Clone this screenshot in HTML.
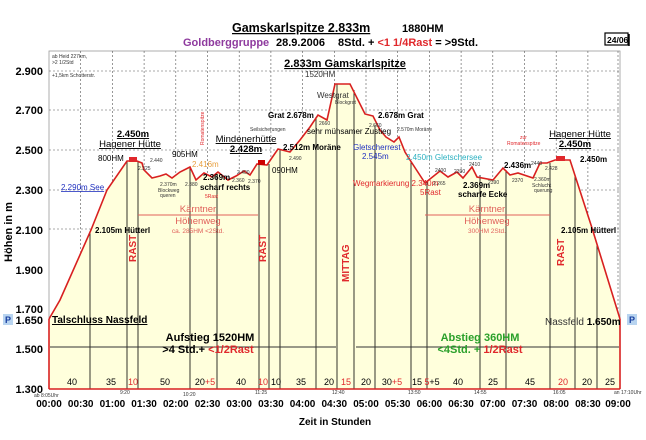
<!DOCTYPE html>
<html><head><meta charset="utf-8"><style>
body{margin:0;background:#fff;}
svg{display:block;font-family:"Liberation Sans",sans-serif;}
.b{font-weight:bold}
</style></head><body>
<svg width="646" height="440" viewBox="0 0 646 440">
<rect width="646" height="440" fill="#fff"/>
<text x="232" y="32" font-size="12.5" class="b" text-decoration="underline">Gamskarlspitze  2.833m</text>
<text x="402" y="32" font-size="11" class="b">1880HM</text>
<text x="183" y="46" font-size="11" class="b" fill="#8e3a9e">Goldberggruppe</text>
<text x="276" y="46" font-size="11" class="b">28.9.2006</text>
<text x="338" y="46" font-size="11" class="b">8Std. + <tspan fill="#e0282c">&lt;1 1/4Rast</tspan> =  &gt;9Std.</text>
<rect x="605" y="33" width="23" height="12" fill="#fff" stroke="#000" stroke-width="1.2"/>
<line x1="629" y1="34" x2="629" y2="46" stroke="#000" stroke-width="1.5"/>
<text x="607" y="43" font-size="8.5" class="b">24/06</text>
<rect x="49" y="51" width="571" height="338" fill="#fff" stroke="#999" stroke-width="0.8"/>
<g stroke="#555" stroke-width="0.6" stroke-dasharray="2,2">
<line x1="49" y1="71" x2="620" y2="71"/><line x1="49" y1="110" x2="620" y2="110"/>
<line x1="49" y1="150" x2="620" y2="150"/><line x1="49" y1="190" x2="620" y2="190"/>
<line x1="49" y1="229" x2="620" y2="229"/>
<line x1="80.7" y1="51" x2="80.7" y2="389"/><line x1="112.4" y1="51" x2="112.4" y2="389"/><line x1="144.1" y1="51" x2="144.1" y2="389"/><line x1="175.8" y1="51" x2="175.8" y2="389"/><line x1="207.5" y1="51" x2="207.5" y2="389"/><line x1="239.2" y1="51" x2="239.2" y2="389"/><line x1="270.9" y1="51" x2="270.9" y2="389"/><line x1="302.6" y1="51" x2="302.6" y2="389"/><line x1="334.3" y1="51" x2="334.3" y2="389"/><line x1="366" y1="51" x2="366" y2="389"/><line x1="397.7" y1="51" x2="397.7" y2="389"/><line x1="429.4" y1="51" x2="429.4" y2="389"/><line x1="461.1" y1="51" x2="461.1" y2="389"/><line x1="492.8" y1="51" x2="492.8" y2="389"/><line x1="524.5" y1="51" x2="524.5" y2="389"/><line x1="556.2" y1="51" x2="556.2" y2="389"/><line x1="587.9" y1="51" x2="587.9" y2="389"/><line x1="618" y1="51" x2="618" y2="389"/>
</g>
<polygon fill="#ffffdc" points="49,389 49,319 60,300 91,230 107,190 127,161 137,161 142,163 144,170 152,178 160,176 166,174 172,178 180,172 190,167 196,180 204,173 212,177 218,172 228,180 236,176 244,171 250,175 257,164 267,165 278,149 290,152 300,140 310,127 318,115 327,120 335,84 350,84 365,114 373,116 380,130 386,137 394,142 399,137 405,152 410,160 425,183 440,171 448,177 457,172 463,178 472,167 477,177 493,180 503,168 510,175 518,173 533,178 540,163 547,163 555,160 570,160 592,228 620,319 620,389"/>
<g stroke="#000" stroke-width="0.8">
<line x1="90" y1="231" x2="90" y2="389"/><line x1="127" y1="161" x2="127" y2="389"/><line x1="138" y1="161" x2="138" y2="389"/><line x1="190" y1="167" x2="190" y2="389"/><line x1="217" y1="174" x2="217" y2="389"/><line x1="259" y1="164" x2="259" y2="389"/><line x1="269" y1="164" x2="269" y2="389"/><line x1="280" y1="149" x2="280" y2="389"/><line x1="316" y1="117" x2="316" y2="389"/><line x1="337" y1="84" x2="337" y2="389"/><line x1="354" y1="90" x2="354" y2="389"/><line x1="375" y1="125" x2="375" y2="389"/><line x1="411" y1="161" x2="411" y2="389"/><line x1="427" y1="182" x2="427" y2="389"/><line x1="480" y1="175" x2="480" y2="389"/><line x1="506" y1="170" x2="506" y2="389"/><line x1="550" y1="163" x2="550" y2="389"/><line x1="575" y1="175" x2="575" y2="389"/><line x1="597" y1="245" x2="597" y2="389"/>
</g>
<polyline fill="none" stroke="#d82020" stroke-width="1.6" points="49,319 60,300 91,230 107,190 127,161 137,161 142,163 144,170 152,178 160,176 166,174 172,178 180,172 190,167 196,180 204,173 212,177 218,172 228,180 236,176 244,171 250,175 257,164 267,165 278,149 290,152 300,140 310,127 318,115 327,120 335,84 350,84 365,114 373,116 380,130 386,137 394,142 399,137 405,152 410,160 425,183 440,171 448,177 457,172 463,178 472,167 477,177 493,180 503,168 510,175 518,173 533,178 540,163 547,163 555,160 570,160 592,228 620,319"/>
<line x1="49" y1="319" x2="49" y2="389" stroke="#d82020" stroke-width="1.6"/>
<line x1="620" y1="319" x2="620" y2="389" stroke="#d82020" stroke-width="1.6"/>
<line x1="49" y1="389" x2="620" y2="389" stroke="#d82020" stroke-width="1.6"/>
<rect x="129" y="157" width="8" height="5" fill="#e0282c"/><rect x="258" y="160" width="7" height="5" fill="#c00"/><rect x="556" y="156" width="9" height="5" fill="#e0282c"/>
<g font-size="11" class="b" text-anchor="end">
<text x="43" y="75">2.900</text><text x="43" y="114">2.700</text><text x="43" y="154">2.500</text><text x="43" y="194">2.300</text><text x="43" y="234">2.100</text><text x="43" y="274">1.900</text><text x="43" y="313">1.700</text><text x="43" y="324">1.650</text><text x="43" y="353">1.500</text><text x="43" y="393">1.300</text>
</g>
<text transform="translate(12,232) rotate(-90)" font-size="11" class="b" text-anchor="middle">Höhen in m</text>
<rect x="3" y="314" width="10" height="11" fill="#b8d4f0"/><text x="5" y="323" font-size="9" class="b" fill="#1a3fa0">P</text>
<rect x="627" y="314" width="10" height="11" fill="#b8d4f0"/><text x="629" y="323" font-size="9" class="b" fill="#1a3fa0">P</text>
<g font-size="10" class="b" text-anchor="middle">
<text x="49" y="407">00:00</text><text x="80.7" y="407">00:30</text><text x="112.4" y="407">01:00</text><text x="144.1" y="407">01:30</text><text x="175.8" y="407">02:00</text><text x="207.5" y="407">02:30</text><text x="239.2" y="407">03:00</text><text x="270.9" y="407">03:30</text><text x="302.6" y="407">04:00</text><text x="334.3" y="407">04:30</text><text x="366" y="407">05:00</text><text x="397.7" y="407">05:30</text><text x="429.4" y="407">06:00</text><text x="461.1" y="407">06:30</text><text x="492.8" y="407">07:00</text><text x="524.5" y="407">07:30</text><text x="556.2" y="407">08:00</text><text x="587.9" y="407">08:30</text><text x="618" y="407">09:00</text>
</g>
<text x="335" y="425" font-size="10" class="b" text-anchor="middle">Zeit in  Stunden</text>
<g font-size="5" fill="#333"><text x="34" y="397">ab 8:05Uhr</text><text x="120" y="394">9:20</text><text x="183" y="396">10:20</text><text x="255" y="394">11:25</text><text x="332" y="394">12:40</text><text x="408" y="394">13:50</text><text x="474" y="394">14:55</text><text x="553" y="394">16:05</text><text x="614" y="394">an 17:10Uhr</text></g>
<g font-size="9" text-anchor="middle">
<text x="72" y="385">40</text><text x="111" y="385">35</text><text x="133" y="385" fill="#e0282c">10</text><text x="165" y="385">50</text><text x="205" y="385">20<tspan fill="#e0282c">+5</tspan></text><text x="241" y="385">40</text><text x="263" y="385" fill="#e0282c">10</text><text x="276" y="385">10</text><text x="301" y="385">35</text><text x="329" y="385">20</text><text x="346" y="385" fill="#e0282c">15</text><text x="366" y="385">20</text><text x="392" y="385">30<tspan fill="#e0282c">+5</tspan></text><text x="417" y="385">15</text><text x="432" y="385"><tspan fill="#e0282c">5</tspan>+5</text><text x="458" y="385">40</text><text x="493" y="385">25</text><text x="530" y="385">45</text><text x="563" y="385" fill="#e0282c">20</text><text x="587" y="385">20</text><text x="610" y="385">25</text>
</g>
<g stroke="#333" stroke-width="1"><line x1="50" y1="347" x2="336" y2="347"/><line x1="356" y1="347" x2="619" y2="347"/></g>
<text x="210" y="341" font-size="11" class="b" text-anchor="middle">Aufstieg 1520HM</text>
<text x="208" y="353" font-size="11" class="b" text-anchor="middle">&gt;4 Std.+ <tspan fill="#e0282c">&lt;1/2Rast</tspan></text>
<text x="480" y="341" font-size="11" class="b" text-anchor="middle" fill="#2aa02a">Abstieg 360HM</text>
<text x="480" y="353" font-size="11" class="b" text-anchor="middle" fill="#2aa02a">&lt;4Std. + <tspan fill="#e0282c">1/2Rast</tspan></text>
<text x="52" y="323" font-size="10" class="b" text-decoration="underline">Talschluss Nassfeld</text>
<text x="545" y="325" font-size="10" fill="#333">Nassfeld <tspan class="b" fill="#000">1.650m</tspan></text>
<g font-size="10" class="b" fill="#e0282c">
<text transform="translate(136,262) rotate(-90)">RAST</text><text transform="translate(266,262) rotate(-90)">RAST</text><text transform="translate(349,282) rotate(-90)">MITTAG</text><text transform="translate(564,266) rotate(-90)">RAST</text>
</g>
<g stroke="#e0605a" stroke-width="1"><line x1="138" y1="215" x2="258" y2="215"/><line x1="425" y1="215" x2="550" y2="215"/></g>
<g fill="#e0605a" text-anchor="middle"><text x="198" y="212" font-size="9.5">Kärntner</text><text x="198" y="224" font-size="9.5">Höhenweg</text><text x="198" y="233" font-size="6.5">ca. 285HM  &lt;2Std.</text>
<text x="487" y="212" font-size="9.5">Kärntner</text><text x="487" y="224" font-size="9.5">Höhenweg</text><text x="487" y="233" font-size="6.5">300HM  2Std.</text></g>
<g class="b" font-size="9.5">
<text x="345" y="67" font-size="11" text-anchor="middle" text-decoration="underline">2.833m Gamskarlspitze</text>
<text x="133" y="137" text-anchor="middle" text-decoration="underline">2.450m</text><text x="130" y="147" text-anchor="middle" text-decoration="underline" font-weight="normal">Hagener Hütte</text>
<text x="246" y="142" text-anchor="middle" text-decoration="underline" font-weight="normal">Mindenerhütte</text><text x="246" y="152" text-anchor="middle" text-decoration="underline">2.428m</text>
<text x="580" y="137" text-anchor="middle" text-decoration="underline" font-weight="normal">Hagener Hütte</text><text x="575" y="147" text-anchor="middle" text-decoration="underline">2.450m</text>
<text x="95" y="233" font-size="8">2.105m Hütterl</text><text x="561" y="233" font-size="8">2.105m Hütterl</text>
<text x="580" y="162" font-size="8">2.450m</text>
<text x="283" y="150" font-size="8">2.512m Moräne</text>
<text x="268" y="118" font-size="8">Grat 2.678m</text><text x="378" y="118" font-size="8">2.678m Grat</text>
<text x="203" y="180" font-size="8">2.369m</text><text x="200" y="190" font-size="8">scharf rechts</text>
<text x="463" y="188" font-size="8">2.369m</text><text x="458" y="197" font-size="8">scharfe Ecke</text>
<text x="504" y="168" font-size="8">2.436m</text>
</g>
<g font-size="8">
<text x="98" y="161">800HM</text><text x="172" y="157">905HM</text><text x="272" y="173">090HM</text>
<text x="61" y="190" fill="#2030c0" text-decoration="underline">2.290m See</text>
<text x="305" y="77" fill="#333">1520HM</text>
<text x="317" y="98" fill="#333">Westgrat</text>
<text x="307" y="134">sehr mühsamer Zustieg</text>
<text x="353" y="150" fill="#2030c0">Gletscherrest</text><text x="362" y="159" fill="#2030c0">2.545m</text>
<text x="406" y="160" fill="#2ab0c0">2.450m Gletschersee</text>
<text x="353" y="186" fill="#e0282c">Wegmarkierung 2.340m</text><text x="420" y="195" fill="#e0282c">5Rast</text>
<text x="192" y="167" fill="#e8a040">2.416m</text>
</g>
<g font-size="5" fill="#333">
<text x="52" y="58">ab Heid 227km,</text><text x="52" y="64">&gt;2 1/2Std</text><text x="52" y="77">+1,5km Schotterstr.</text>
<text x="150" y="162">2.440</text><text x="138" y="170">2.325</text><text x="160" y="186">2.370m</text><text x="158" y="192">Blockweg</text><text x="160" y="197">queren</text>
<text x="185" y="186">2.380</text><text x="232" y="182">2.360</text><text x="237" y="174">2.400</text><text x="248" y="183">2.370</text>
<text x="250" y="131">Seilsicherungen</text><text x="289" y="160">2.490</text>
<text x="319" y="125">2660</text><text x="369" y="127">2.660</text><text x="397" y="131">2.570m Moräne</text><text x="335" y="104">Blockgrat</text>
<text x="435" y="172">2400</text><text x="433" y="185">2.265</text><text x="454" y="173">2390</text><text x="469" y="166">2410</text><text x="488" y="184">2390</text><text x="512" y="182">2370</text><text x="531" y="165">2440</text><text x="545" y="170">2.428</text><text x="534" y="181">2.360m</text><text x="532" y="187">Schlucht</text><text x="534" y="192">querung</text>
<text x="205" y="198" fill="#e0282c">5Rast</text>
<text x="520" y="139" fill="#e0282c">zur</text><text x="507" y="145" fill="#e0282c">Romatenspitze</text>
<text transform="translate(204,145) rotate(-90)" fill="#e0282c">Romatenspitze</text>
</g>
</svg>
</body></html>
